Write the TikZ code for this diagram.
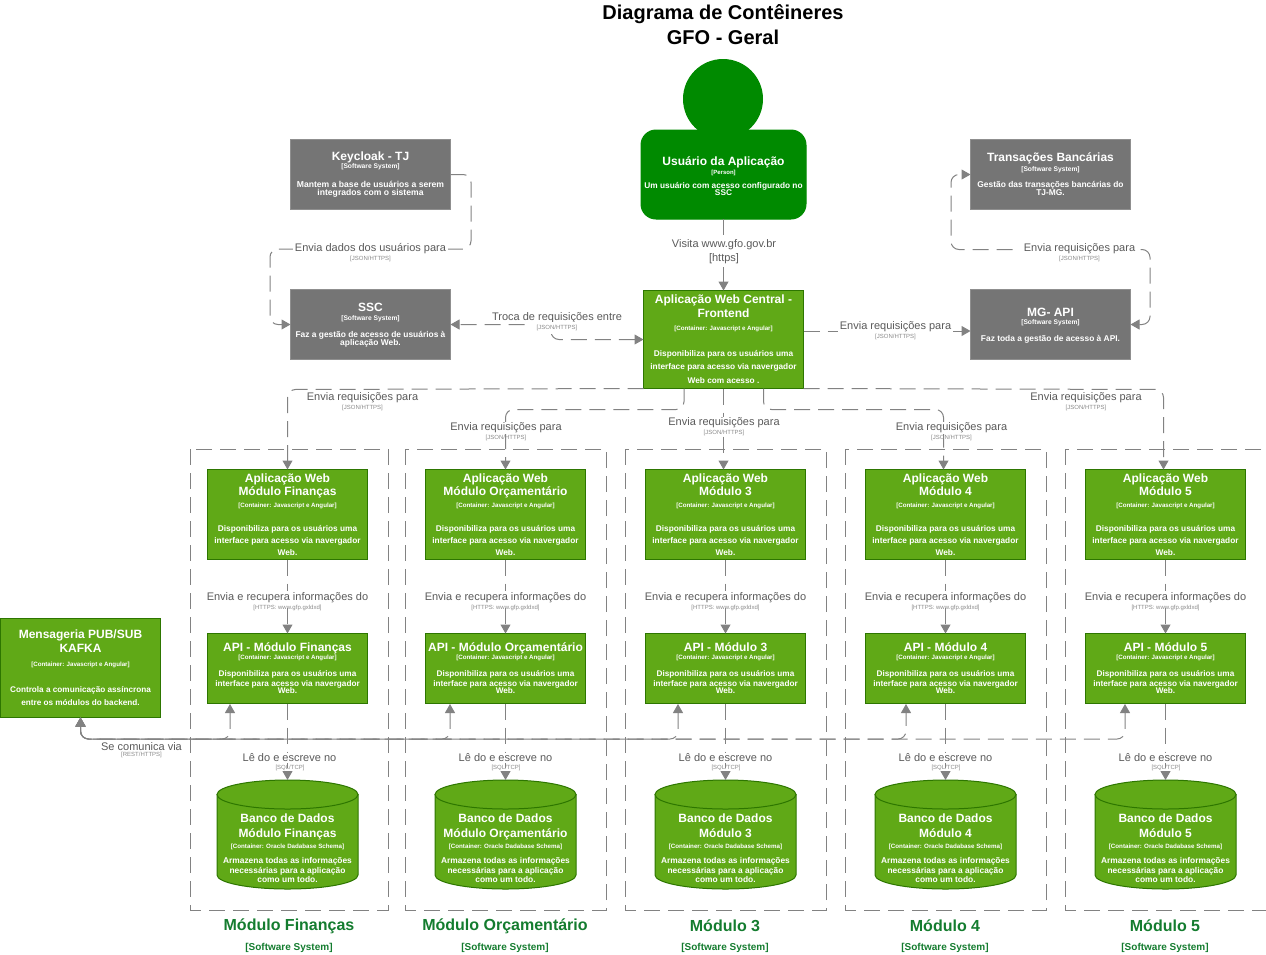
\documentclass[tikz,border=0pt]{standalone}
\usepackage{fontspec}
\setmainfont{Liberation Sans}
\usetikzlibrary{arrows.meta}
\definecolor{cgreen}{HTML}{60A917}
\definecolor{cgreenb}{HTML}{2D7600}
\definecolor{cperson}{HTML}{008A00}
\definecolor{cgrey}{HTML}{757575}
\definecolor{cgreyb}{HTML}{8F8F8F}
\definecolor{cline}{HTML}{828282}
\definecolor{clab}{HTML}{5A5A5A}
\definecolor{csmall}{HTML}{8A8A8A}
\definecolor{cmod}{HTML}{147C2F}
\newcommand{\bxl}[3]{\kern#2pt\hbox to 150pt{\hss\smash{\raisebox{-.36em}{\fontsize{#1pt}{#1pt}\selectfont #3}}\hss}}
\newcommand{\stk}[1]{\vbox{\offinterlineskip\bfseries #1}}
\tikzset{
 x=1pt,y=-1pt,
 boxbase/.style={inner sep=0pt,outer sep=0pt,text=white,minimum width=160pt,line width=1pt},
 gbox/.style={boxbase,rectangle,fill=cgreen,draw=cgreenb},
 sbox/.style={boxbase,rectangle,fill=cgrey,draw=cgreyb},
 conn/.style={draw=cline,line width=1pt,dash pattern=on 16pt off 8pt,rounded corners=8pt},
 tip/.style={-{Triangle[length=9pt,width=10pt,fill=cline]}},
 biptip/.style={{Triangle[length=9pt,width=10pt,fill=cline]}-{Triangle[length=9pt,width=10pt,fill=cline]}},
 lab/.style={text=clab,fill=white,inner xsep=2pt,inner ysep=1pt,font=\fontsize{11pt}{12pt}\selectfont},
 sml/.style={text=csmall,inner sep=0pt,font=\fontsize{6pt}{7pt}\selectfont},
 boundary/.style={draw=cline,line width=1pt,dash pattern=on 16pt off 8pt,inner sep=0pt},
 modt/.style={text=cmod,inner sep=0pt,font=\bfseries\fontsize{16pt}{18pt}\selectfont},
 mods/.style={text=cmod,inner sep=0pt,font=\bfseries\fontsize{10pt}{11pt}\selectfont},
 titl/.style={inner sep=0pt,font=\bfseries\fontsize{20pt}{24pt}\selectfont},
}
\begin{document}
\begin{tikzpicture}
\useasboundingbox (0,0) rectangle (1266,954);
% title
\node[titl] (title1) at (723,14.5) {Diagrama de Contêineres};
\node[titl] (title2) at (723,37) {GFO - Geral};
% person
\node[circle,fill=cperson,minimum size=80pt,inner sep=0pt] (head) at (723,99) {};
\node[boxbase,fill=cperson,draw=cperson,rounded corners=15pt,minimum width=165pt,minimum height=89pt] (user) at (723.5,174.5)
 {\stk{\bxl{12}{32}{Usuário da Aplicação}\bxl{6}{9}{[Person]}\bxl{8.3}{14}{Um usuário com acesso configurado no}\bxl{8.3}{7}{SSC}\kern27pt}};
% systems
\node[sbox,minimum height=70pt] (keycloak) at (370.5,174.5)
 {\stk{\bxl{12}{17.5}{Keycloak - TJ}\bxl{6.7}{8}{[Software System]}\bxl{8.6}{18.5}{Mantem a base de usuários a serem}\bxl{8.6}{8.5}{integrados com o sistema}\kern17.5pt}};
\node[sbox,minimum height=70pt] (ssc) at (370.5,324.5)
 {\stk{\bxl{12}{18.5}{SSC}\bxl{6.7}{9}{[Software System]}\bxl{8.4}{17}{Faz a gestão de acesso de usuários à}\bxl{8.4}{8}{aplicação Web.}\kern17.5pt}};
\node[sbox,minimum height=70pt] (trans) at (1050.5,174.5)
 {\stk{\bxl{12}{18.5}{Transações Bancárias}\bxl{6.7}{9.5}{[Software System]}\bxl{8.4}{16.5}{Gestão das transações bancárias do}\bxl{8.4}{8}{TJ-MG.}\kern17.5pt}};
\node[sbox,minimum height=70pt] (mg) at (1050.5,324.5)
 {\stk{\bxl{12}{23.5}{MG- API}\bxl{6.7}{8}{[Software System]}\bxl{8.4}{17}{Faz toda a gestão de acesso à API.}\kern21.5pt}};
\node[gbox,minimum height=98pt] (central) at (723.5,339.5)
 {\stk{\bxl{12}{9.5}{Aplicação Web Central -}\bxl{12}{14}{Frontend}\bxl{6.2}{13}{[Container: Javascript e Angular]}\bxl{8.3}{26}{Disponibiliza para os usuários uma}\bxl{8.3}{13}{interface para acesso via navergador}\bxl{8.3}{14}{Web com acesso .}\kern8.5pt}};
\node[gbox,minimum height=99pt] (kafka) at (80.5,668)
 {\stk{\bxl{12}{16.5}{Mensageria PUB/SUB}\bxl{12}{14}{KAFKA}\bxl{6.2}{14}{[Container: Javascript e Angular]}\bxl{8.2}{26}{Controla a comunicação assíncrona}\bxl{8.2}{13}{entre os módulos do backend.}\kern15.5pt}};
% module columns
\foreach \k/\cx/\bl/\br/\kx/\tx/\ph/\m in {
 fin/287.5/190/388/230/289/0/{Módulo Finanças},
 orc/505.5/405/606/450/505/0/{Módulo Orçamentário},
 mtr/725.5/625/826/678/725/0/{Módulo 3},
 mqu/945.5/845/1046/906/945/3/{Módulo 4},
 mci/1165.5/1065/1266/1125/1165/0/{Módulo 5}}{
 \path (\bl,449) coordinate (bnw\k) (\br,910) coordinate (bse\k);
 \draw[boundary] (bnw\k) rectangle (bse\k);
 \node[gbox,minimum height=90pt] (web\k) at (\cx,514.5)
  {\stk{\bxl{12}{9.5}{Aplicação Web}\bxl{12}{12.5}{\m}\bxl{6.2}{12.5}{[Container: Javascript e Angular]}\bxl{8.3}{24}{Disponibiliza para os usuários uma}\bxl{8.3}{12}{interface para acesso via navergador}\bxl{8.3}{12}{Web.}\kern7.5pt}};
 \node[gbox,minimum height=70pt] (api\k) at (\cx,668.5)
  {\stk{\bxl{12}{14.5}{API - \m}\bxl{6.2}{8}{[Container: Javascript e Angular]}\bxl{8.2}{17}{Disponibiliza para os usuários uma}\bxl{8.2}{9.5}{interface para acesso via navergador}\bxl{8.2}{7.5}{Web.}\kern13.5pt}};
 \draw[fill=cgreen,draw=cgreenb,line width=1pt] (\cx-70.5,794.5) -- (\cx-70.5,875) arc[start angle=180,end angle=360,x radius=70.5pt,y radius=14pt] -- (\cx+70.5,794.5) -- cycle;
 \draw[fill=cgreen,draw=cgreenb,line width=1pt] (\cx,794.5) ellipse[x radius=70.5pt,y radius=14.5pt];
 \node[inner sep=0pt,outer sep=0pt,text=white,minimum width=141pt,minimum height=109pt] (db\k) at (\cx,834.5)
  {\stk{\bxl{12}{39}{Banco de Dados}\bxl{12}{15}{\m}\bxl{6.2}{11}{[Container: Oracle Dadabase Schema]}\bxl{8.4}{15}{Armazena todas as informações}\bxl{8.4}{10}{necessárias para a aplicação}\bxl{8.4}{9}{como um todo.}\kern10pt}};
 \draw[conn,tip] (web\k.south) -- (api\k.north);
 \draw[conn,tip] (api\k.south) -- (db\k.north);
 \node[lab] (lbw\k) at (\cx,597.5) {Envia e recupera informações do};
 \node[sml] (slw\k) at (\cx,607.5) {[HTTPS: www.gfp.gxldxd]};
 \node[lab] (lbd\k) at (\tx+0.5,758) {Lê do e escreve no};
 \node[sml] (sld\k) at (\tx+1,768) {[SQL/TCP]};
 \node[modt] (mt\k) at (\tx,926) {\m};
 \node[mods] (ms\k) at (\tx,947.5) {[Software System]};
 \coordinate (kport\k) at (\kx,704);
 \draw[conn,biptip,dash phase=\ph pt] (kport\k) -- (\kx,739) -- (80.5,739) -- (kafka.south);
}
% top connectors
\draw[conn,tip] (user.south) -- (central.north);
\draw[conn,tip] (keycloak.east) -- (471,174.5) -- (471,249) -- (270,249) -- (270,324.5) -- (ssc.west);
\draw[conn,biptip] (central.west) -- (551,339.5) -- (551,324.5) -- (ssc.east);
\draw[conn,tip] ([yshift=8.5pt]central.east) -- ([yshift=-6.5pt]mg.west);
\draw[conn,biptip] (mg.east) -- (1150,324.5) -- (1150,249.5) -- (951,249.5) -- (951,174.5) -- (trans.west);
\draw[conn,tip] (central.south west) -- (287.5,389.5) -- (webfin.north);
\draw[conn,tip] (central.south east) -- (1163.5,389.5) -- ([xshift=-2pt]webmci.north);
\draw[conn,tip] ([xshift=-39.5pt]central.south) -- (684,409.5) -- (505.5,409.5) -- (weborc.north);
\draw[conn,tip] ([xshift=40pt]central.south) -- (763.5,409.5) -- (943.5,409.5) -- ([xshift=-2pt]webmqu.north);
\draw[conn,tip] (central.south) -- ([xshift=-2pt]webmtr.north);
% labels
\node[lab] (l1) at (370.5,249) {Envia dados dos usuários para};
\node[sml] (s1) at (370.5,259) {[JSON/HTTPS]};
\node[lab] (l2) at (557,318) {Troca de requisições entre};
\node[sml,fill=white,minimum height=12pt,minimum width=56pt] (s2) at (557,328) {[JSON/HTTPS]};
\node[lab,align=center] (l3) at (724,251.5) {Visita www.gfo.gov.br\\[2pt][https]};
\node[lab] (l4) at (895.5,327) {Envia requisições para};
\node[sml] (s4) at (895.5,337) {[JSON/HTTPS]};
\node[lab,inner xsep=4pt] (l5) at (1079.5,249) {Envia requisições para};
\node[sml] (s5) at (1079.5,259) {[JSON/HTTPS]};
\node[lab] (l6) at (362.5,398) {Envia requisições para};
\node[sml] (s6) at (362.5,408) {[JSON/HTTPS]};
\node[lab] (l7) at (506,428) {Envia requisições para};
\node[sml] (s7) at (506,438) {[JSON/HTTPS]};
\node[lab] (l8) at (724,423) {Envia requisições para};
\node[sml] (s8) at (724,433) {[JSON/HTTPS]};
\node[lab] (l9) at (951.5,428) {Envia requisições para};
\node[sml] (s9) at (951.5,438) {[JSON/HTTPS]};
\node[lab] (l10) at (1086,398) {Envia requisições para};
\node[sml] (s10) at (1086,408) {[JSON/HTTPS]};
\node[lab] (l11) at (141.5,746.5) {Se comunica via};
\node[sml] (s11) at (141.5,754.5) {[REST/HTTPS]};
\end{tikzpicture}
\end{document}
